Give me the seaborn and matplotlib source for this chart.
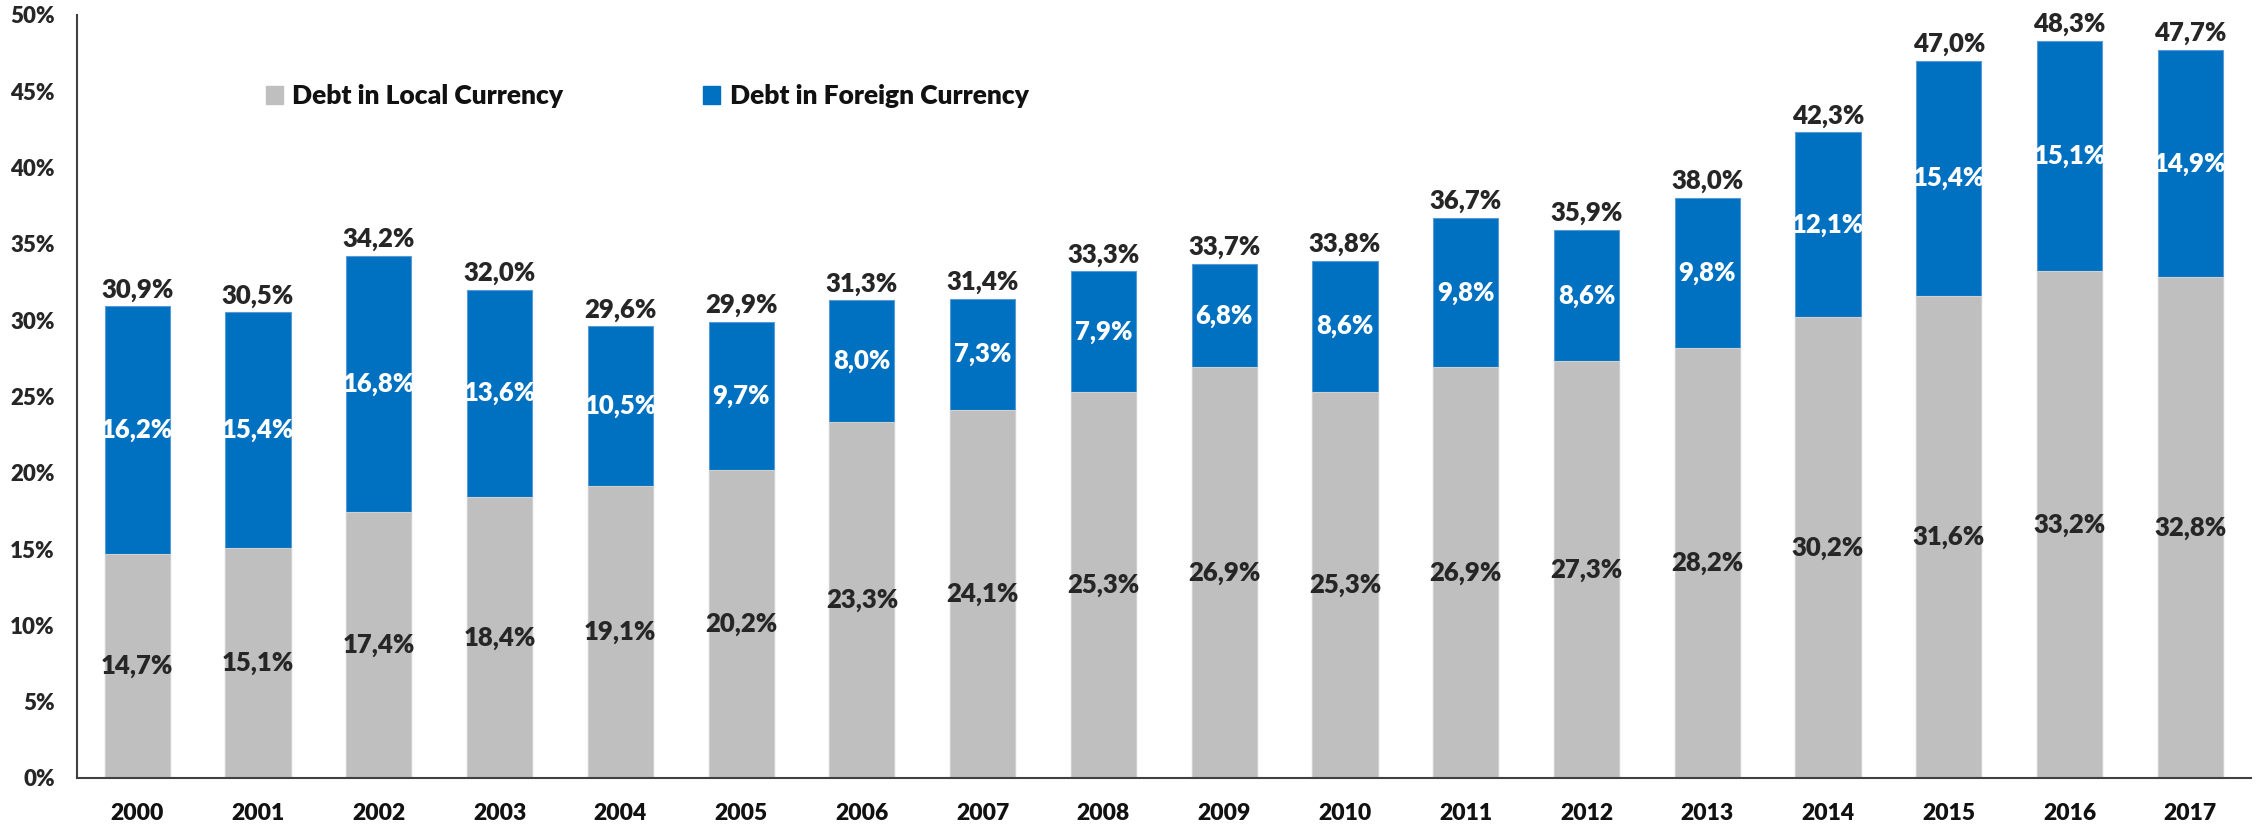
import numpy as np
import pandas as pd
import matplotlib
matplotlib.use("Agg")
import matplotlib.pyplot as plt
import seaborn as sns
from matplotlib.patches import Patch
from matplotlib.ticker import FuncFormatter

# chart data
years = [str(y) for y in range(2000, 2018)]
local_debt = [14.7, 15.1, 17.4, 18.4, 19.1, 20.2, 23.3, 24.1, 25.3, 26.9,
              25.3, 26.9, 27.3, 28.2, 30.2, 31.6, 33.2, 32.8]
foreign_debt = [16.2, 15.4, 16.8, 13.6, 10.5, 9.7, 8.0, 7.3, 7.9, 6.8,
                8.6, 9.8, 8.6, 9.8, 12.1, 15.4, 15.1, 14.9]
total_debt = [30.9, 30.5, 34.2, 32.0, 29.6, 29.9, 31.3, 31.4, 33.3, 33.7,
              33.8, 36.7, 35.9, 38.0, 42.3, 47.0, 48.3, 47.7]
series_names = ["Debt in Local Currency", "Debt in Foreign Currency"]

GREY = "#BFBFBF"
BLUE = "#0070C0"
TEXT = "#262626"
WEIGHT = 800

df = pd.DataFrame({"year": years, "local": local_debt, "foreign": foreign_debt,
                   "total": total_debt})
df["stack"] = df["local"] + df["foreign"]

sns.set_style("white")
plt.rcParams["font.family"] = ["Lato", "DejaVu Sans"]
plt.rcParams["font.weight"] = WEIGHT

fig, ax = plt.subplots(figsize=(22.62, 8.25), dpi=100)
fig.subplots_adjust(left=0.034, right=0.995, bottom=0.057, top=0.982)

# stacked bars: full height in blue, local part drawn over it in grey
sns.barplot(data=df, x="year", y="stack", color=BLUE, width=0.54,
            saturation=1, ax=ax, edgecolor="#5B9BD5", linewidth=0.8)
sns.barplot(data=df, x="year", y="local", color=GREY, width=0.54,
            saturation=1, ax=ax, edgecolor="#D0D0D0", linewidth=0.8)

def fmt(v):
    return f"{v:.1f}%".replace(".", ",")

for i, row in df.iterrows():
    ax.text(i, row["local"] / 2, fmt(row["local"]), ha="center", va="center",
            fontsize=18.5, fontweight=WEIGHT, color=TEXT)
    ax.text(i, row["local"] + row["foreign"] / 2, fmt(row["foreign"]),
            ha="center", va="center", fontsize=18.5, fontweight=WEIGHT,
            color="white")
    ax.text(i, row["stack"] + 0.3, fmt(row["total"]), ha="center",
            va="bottom", fontsize=18.5, fontweight=WEIGHT, color=TEXT)

ax.set_ylim(0, 50)
ax.set_xlim(-0.5, len(years) - 0.5)
ax.set_yticks(np.arange(0, 51, 5))
ax.yaxis.set_major_formatter(FuncFormatter(lambda v, p: f"{v:.0f}%"))
ax.set_xlabel("")
ax.set_ylabel("")
ax.tick_params(axis="y", direction="in", length=7, width=1.2, color="#404040",
               labelsize=16, labelcolor=TEXT, pad=16)
ax.tick_params(axis="x", length=0, labelsize=16.5, labelcolor="#111111",
               pad=18)
for lab in ax.get_xticklabels() + ax.get_yticklabels():
    lab.set_fontweight(WEIGHT)

sns.despine(ax=ax)
for side in ["left", "bottom"]:
    ax.spines[side].set_color("#404040")
    ax.spines[side].set_linewidth(1.5)

handles = [Patch(color=GREY), Patch(color=BLUE)]
leg = ax.legend(handles, series_names, ncol=2, frameon=False, loc="upper left",
                bbox_to_anchor=(0.076, 0.94), handlelength=0.65,
                handleheight=0.65, handletextpad=0.35, columnspacing=5.3,
                prop={"weight": WEIGHT, "size": 19})
for t in leg.get_texts():
    t.set_color("#111111")

fig.savefig("out.png", dpi=100)
